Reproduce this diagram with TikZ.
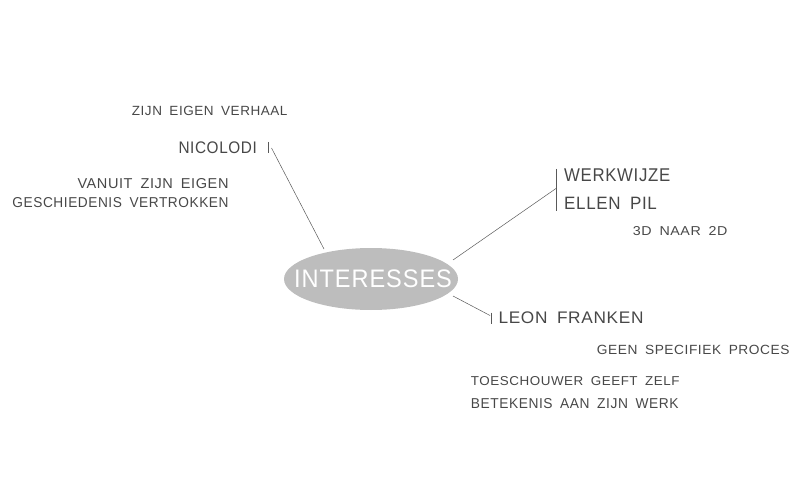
\documentclass[tikz,border=0pt]{standalone}
\usepackage{fontspec}
\setmainfont{Liberation Sans}[LetterSpace=4]
\usepackage{graphicx}
\usetikzlibrary{shapes.geometric}
\newcommand\fittxt[3]{\resizebox{#1pt}{#2pt}{#3}}
\newcommand\ws{\hspace{0.55em}}
\begin{document}
\begin{tikzpicture}[x=1pt,y=-1pt,
  lbl/.style={inner sep=0pt,anchor=base west,text=black!72},
  conn/.style={draw=black!65,line width=0.5pt}]
\useasboundingbox (0,0) rectangle (800,497);
% central ellipse
\node[ellipse,fill=black!26,minimum width=174pt,minimum height=62pt,inner sep=0pt] (int) at (371,279) {};
\node[inner sep=0pt,anchor=base west,text=white] (intt) at (294,287.7) {\fittxt{157.7}{17.7}{INTERESSES}};
% left branch
\node[lbl] (zijn) at (131.7,116) {\fittxt{155.6}{9.3}{ZIJN\ws EIGEN\ws VERHAAL}};
\node[lbl] (nic) at (178.3,153.3) {\fittxt{78.4}{11.7}{NICOLODI}};
\node[lbl] (van) at (77.3,188.3) {\fittxt{151}{10}{VANUIT\ws ZIJN\ws EIGEN}};
\node[lbl] (ges) at (12.3,207.3) {\fittxt{216}{10}{GESCHIEDENIS\ws VERTROKKEN}};
\coordinate (nt1) at (268.7,142);
\coordinate (nt2) at (268.7,153);
\coordinate (na) at (271.5,148);
\coordinate (nb) at (324,249);
\draw[conn] (nt1) -- (nt2);
\draw[conn] (na) -- (nb);
% upper right branch
\node[lbl] (werk) at (564,181.7) {\fittxt{106}{12.7}{WERKWIJZE}};
\node[lbl] (ellen) at (564,210) {\fittxt{92.7}{12.3}{ELLEN\ws PIL}};
\node[lbl] (dd) at (632.7,235) {\fittxt{94.6}{9}{3D\ws NAAR\ws 2D}};
\coordinate (wb1) at (556.7,169);
\coordinate (wb2) at (556.7,211);
\coordinate (wa) at (556.7,188);
\coordinate (wc) at (453,260);
\draw[conn] (wb1) -- (wb2);
\draw[conn] (wc) -- (wa);
% lower right branch
\node[lbl] (leon) at (498.3,323.3) {\fittxt{145}{11.7}{LEON\ws FRANKEN}};
\node[lbl] (geen) at (596.7,354.3) {\fittxt{192.6}{9.3}{GEEN\ws SPECIFIEK\ws PROCES}};
\node[lbl] (toe) at (470.7,385) {\fittxt{208.6}{9}{TOESCHOUWER\ws GEEFT\ws ZELF}};
\node[lbl] (bet) at (470.7,408.3) {\fittxt{207.6}{10}{BETEKENIS\ws AAN\ws ZIJN\ws WERK}};
\coordinate (lt1) at (491.7,312.5);
\coordinate (lt2) at (491.7,323.5);
\coordinate (la) at (490,315.5);
\coordinate (lc) at (453,296);
\draw[conn] (lt1) -- (lt2);
\draw[conn] (lc) -- (la);
\end{tikzpicture}
\end{document}
